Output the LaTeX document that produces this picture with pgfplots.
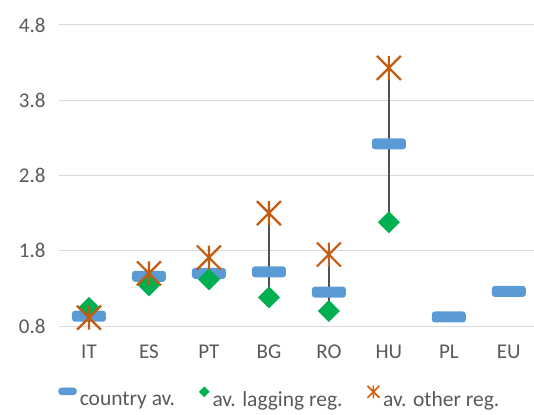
\documentclass[border=0pt]{standalone}
\usepackage{pgfplots}
\pgfplotsset{compat=1.18}
\usepackage{fontspec}
\setmainfont{Carlito}
\definecolor{cblue}{HTML}{5B9BD5}
\definecolor{cgreen}{HTML}{00B050}
\definecolor{corange}{HTML}{C55A11}
\definecolor{cgrid}{HTML}{D9D9D9}
\definecolor{ctext}{HTML}{595959}
\definecolor{cline}{HTML}{505050}
\pgfdeclareplotmark{rbar}{%
 \pgfpathmoveto{\pgfqpoint{-14pt}{-5.5pt}}%
 \pgfpathlineto{\pgfqpoint{14pt}{-5.5pt}}%
 \pgfpatharc{-90}{0}{3pt}%
 \pgfpathlineto{\pgfqpoint{17pt}{2.5pt}}%
 \pgfpatharc{0}{90}{3pt}%
 \pgfpathlineto{\pgfqpoint{-14pt}{5.5pt}}%
 \pgfpatharc{90}{180}{3pt}%
 \pgfpathlineto{\pgfqpoint{-17pt}{-2.5pt}}%
 \pgfpatharc{180}{270}{3pt}%
 \pgfpathclose
 \pgfusepathqfill}
\pgfdeclareplotmark{xstar}{%
 \pgfpathmoveto{\pgfqpoint{-\pgfplotmarksize}{-\pgfplotmarksize}}\pgfpathlineto{\pgfqpoint{\pgfplotmarksize}{\pgfplotmarksize}}%
 \pgfpathmoveto{\pgfqpoint{-\pgfplotmarksize}{\pgfplotmarksize}}\pgfpathlineto{\pgfqpoint{\pgfplotmarksize}{-\pgfplotmarksize}}%
 \pgfpathmoveto{\pgfqpoint{0pt}{-\pgfplotmarksize}}\pgfpathlineto{\pgfqpoint{0pt}{\pgfplotmarksize}}%
 \pgfusepathqstroke}
\pgfdeclareplotmark{rdiamond}{%
 \pgfpathmoveto{\pgfqpoint{0pt}{\pgfplotmarksize}}\pgfpathlineto{\pgfqpoint{\pgfplotmarksize}{0pt}}\pgfpathlineto{\pgfqpoint{0pt}{-\pgfplotmarksize}}\pgfpathlineto{\pgfqpoint{-\pgfplotmarksize}{0pt}}\pgfpathclose\pgfusepathqfill}
\begin{document}
\begin{tikzpicture}
\useasboundingbox (-59pt,-88pt) rectangle (475pt,326pt);
\begin{axis}[
  scale only axis, width=475pt, height=301pt,
  xmin=-0.5, xmax=7.42, ymin=0.8, ymax=4.8,
  ytick={0.8,1.8,2.8,3.8,4.8}, yticklabels={0.8,1.8,2.8,3.8,4.8},
  xtick={0,...,7}, xticklabels={IT,ES,PT,BG,RO,HU,PL,EU},
  axis line style={draw=none}, major tick length=0pt,
  ymajorgrids, grid style={cgrid, line width=1pt},
  tick label style={font=\fontsize{21}{25}\selectfont, text=ctext},
  /pgf/number format/assume math mode=true,
  yticklabel style={xshift=-10pt},
  xticklabel style={yshift=-15pt},
  clip=false,
  legend style={draw=none, fill=none, at={(axis description cs:0.465,-0.236)}, anchor=center,
    font=\fontsize{21.5}{25}\selectfont, text=ctext,
    /tikz/every even column/.append style={column sep=22pt},
    /tikz/every odd column/.append style={column sep=1pt}},
  legend columns=3,
]
\addplot[forget plot, cline, line width=1.3pt] coordinates {(0,1.04) (0,0.91)};
\addplot[forget plot, cline, line width=1.3pt] coordinates {(1,1.34) (1,1.50)};
\addplot[forget plot, cline, line width=1.3pt] coordinates {(2,1.42) (2,1.71)};
\addplot[forget plot, cline, line width=1.3pt] coordinates {(3,1.18) (3,2.30)};
\addplot[forget plot, cline, line width=1.3pt] coordinates {(4,1.00) (4,1.75)};
\addplot[forget plot, cline, line width=1.3pt] coordinates {(5,2.18) (5,4.23)};
\addplot[only marks, mark=rbar, color=cblue,
  legend image code/.code={\fill[cblue, rounded corners=3pt] (0pt,4.5pt) rectangle (18pt,11.5pt);}]
  coordinates {(0,0.93) (1,1.46) (2,1.50) (3,1.52) (4,1.25) (5,3.22) (6,0.92) (7,1.26)};
\addlegendentry{country av.}
\addplot[only marks, mark=rdiamond, mark size=11pt, color=cgreen,
  legend image code/.code={\fill[cgreen] (6pt,7.5pt) -- (11pt,12.5pt) -- (16pt,7.5pt) -- (11pt,2.5pt) -- cycle;}]
  coordinates {(0,1.04) (1,1.34) (2,1.42) (3,1.18) (4,1.00) (5,2.18)};
\addlegendentry{av. lagging reg.}
\addplot[only marks, mark=xstar, mark size=12pt, color=corange, line width=2.2pt,
  legend image code/.code={\draw[corange!80!orange, line width=1.6pt] (5pt,1.5pt) -- (17pt,13.5pt) (5pt,13.5pt) -- (17pt,1.5pt) (11pt,1pt) -- (11pt,14pt);}]
  coordinates {(0,0.91) (1,1.50) (2,1.71) (3,2.30) (4,1.75) (5,4.23)};
\addlegendentry{av. other reg.}
\end{axis}
\end{tikzpicture}
\end{document}
